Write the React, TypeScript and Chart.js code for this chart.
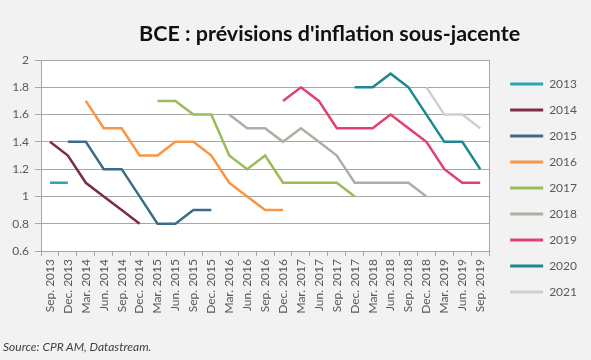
import React, { useEffect, useRef } from "react";
import { Chart, registerables } from "chart.js";

Chart.register(...registerables);

const categories = [
  "Sep. 2013", "Dec. 2013", "Mar. 2014", "Jun. 2014", "Sep. 2014", "Dec. 2014",
  "Mar. 2015", "Jun. 2015", "Sep. 2015", "Dec. 2015", "Mar. 2016", "Jun. 2016",
  "Sep. 2016", "Dec. 2016", "Mar. 2017", "Jun. 2017", "Sep. 2017", "Dec. 2017",
  "Mar. 2018", "Jun. 2018", "Sep. 2018", "Dec. 2018", "Mar. 2019", "Jun. 2019",
  "Sep. 2019",
];

const _ = null;
const s2013 = [1.1, 1.1];
const s2014 = [1.4, 1.3, 1.1, 1.0, 0.9, 0.8];
const s2015 = [_, 1.4, 1.4, 1.2, 1.2, 1.0, 0.8, 0.8, 0.9, 0.9];
const s2016 = [_, _, 1.7, 1.5, 1.5, 1.3, 1.3, 1.4, 1.4, 1.3, 1.1, 1.0, 0.9, 0.9];
const s2017 = [_, _, _, _, _, _, 1.7, 1.7, 1.6, 1.6, 1.3, 1.2, 1.3, 1.1, 1.1, 1.1, 1.1, 1.0];
const s2018 = [_, _, _, _, _, _, _, _, _, _, 1.6, 1.5, 1.5, 1.4, 1.5, 1.4, 1.3, 1.1, 1.1, 1.1, 1.1, 1.0];
const s2019 = [_, _, _, _, _, _, _, _, _, _, _, _, _, 1.7, 1.8, 1.7, 1.5, 1.5, 1.5, 1.6, 1.5, 1.4, 1.2, 1.1, 1.1];
const s2020 = [_, _, _, _, _, _, _, _, _, _, _, _, _, _, _, _, _, 1.8, 1.8, 1.9, 1.8, 1.6, 1.4, 1.4, 1.2];
const s2021 = [_, _, _, _, _, _, _, _, _, _, _, _, _, _, _, _, _, _, _, _, _, 1.8, 1.6, 1.6, 1.5];

const seriesNames = ["2013", "2014", "2015", "2016", "2017", "2018", "2019", "2020", "2021"];
const seriesData = [s2013, s2014, s2015, s2016, s2017, s2018, s2019, s2020, s2021];
const seriesColors = [
  "#2fa3b6", "#7c2a4e", "#3c6c88", "#f79646", "#9bbb59",
  "#b3aca4", "#e3416c", "#1b8894", "#cfcfcf",
];

const yTicks = [0.6, 0.8, 1, 1.2, 1.4, 1.6, 1.8, 2];

const FONT = "Lato, 'Open Sans', sans-serif";

export default function App() {
  const ref = useRef<HTMLCanvasElement | null>(null);

  useEffect(() => {
    if (!ref.current) return;
    const plotBg = {
      id: "plotBg",
      beforeDraw(chart: any) {
        const { ctx, chartArea } = chart;
        ctx.save();
        ctx.fillStyle = "#ffffff";
        ctx.fillRect(chartArea.left, chartArea.top, chartArea.right - chartArea.left, chartArea.bottom - chartArea.top);
        ctx.restore();
      },
    };
    const chart = new Chart(ref.current, {
      type: "line",
      data: {
        labels: categories,
        datasets: seriesNames.map((name, i) => ({
          label: name,
          data: seriesData[i],
          borderColor: seriesColors[i],
          backgroundColor: seriesColors[i],
          borderWidth: 2.5,
          pointRadius: 0,
          tension: 0,
          spanGaps: false,
          fill: false,
          yAxisID: "y",
        })),
      },
      options: {
        animation: false,
        responsive: false,
        maintainAspectRatio: false,
        layout: { padding: { top: 60, bottom: 44, left: 0, right: 4 } },
        plugins: {
          title: { display: false },
          tooltip: { enabled: false },
          legend: {
            position: "right",
            align: "center",
            labels: {
              boxWidth: 33,
              boxHeight: 3,
              padding: 14,
              color: "#595959",
              font: { family: FONT, size: 12 },
              generateLabels(chart: any) {
                return chart.data.datasets.map((ds: any, i: number) => ({
                  text: ds.label,
                  fillStyle: ds.borderColor,
                  strokeStyle: ds.borderColor,
                  lineWidth: 0,
                  hidden: false,
                  datasetIndex: i,
                  fontColor: "#595959",
                }));
              },
            },
          },
        },
        scales: {
          x: {
            type: "category",
            offset: true,
            afterFit(s: any) { s.height = 65; },
            grid: {
              offset: true,
              drawOnChartArea: false,
              drawTicks: true,
              tickLength: 5,
              color: "#a6a6a6",
            },
            border: { display: true, color: "#a6a6a6", width: 1 },
            ticks: {
              autoSkip: false,
              minRotation: 90,
              maxRotation: 90,
              padding: 3,
              color: "#595959",
              font: { family: FONT, size: 12 },
            },
          },
          y: {
            type: "linear",
            position: "left",
            min: 0.6,
            max: 2,
            afterFit(s: any) { s.width = 41; },
            afterBuildTicks(s: any) { s.ticks = yTicks.map((v) => ({ value: v })); },
            grid: {
              color: "#a6a6a6",
              lineWidth: 1,
              drawTicks: true,
              tickLength: 6,
            },
            border: { display: true, color: "#a6a6a6", width: 1 },
            ticks: {
              padding: 6,
              color: "#595959",
              font: { family: FONT, size: 12 },
              callback: (v: any) => String(Number(Number(v).toFixed(1))),
            },
          },
          yRight: {
            type: "linear",
            position: "right",
            display: true,
            afterFit(s: any) { s.width = 7; },
            grid: { drawOnChartArea: false, drawTicks: false },
            border: { display: true, color: "#a6a6a6", width: 1 },
            ticks: { display: false },
          },
        },
      },
      plugins: [plotBg],
    });
    return () => chart.destroy();
  }, []);

  return (
    <div style={{ position: "fixed", left: 0, top: 0, width: 591, height: 360, background: "#f2f2f2", overflow: "hidden" }}>
      <canvas ref={ref} width={591} height={360} style={{ position: "absolute", left: 0, top: 0, width: 591, height: 360 }} />
      <div style={{ position: "absolute", left: 139, top: 20, fontFamily: FONT, fontWeight: 700, fontSize: 21.5, color: "#111111", whiteSpace: "nowrap", lineHeight: "26px" }}>
        BCE : prévisions d'inflation sous-jacente
      </div>
      <div style={{ position: "absolute", left: 3, top: 339, fontFamily: FONT, fontStyle: "italic", fontSize: 12, color: "#404040", whiteSpace: "nowrap", lineHeight: "16px" }}>
        Source: CPR AM, Datastream.
      </div>
    </div>
  );
}
